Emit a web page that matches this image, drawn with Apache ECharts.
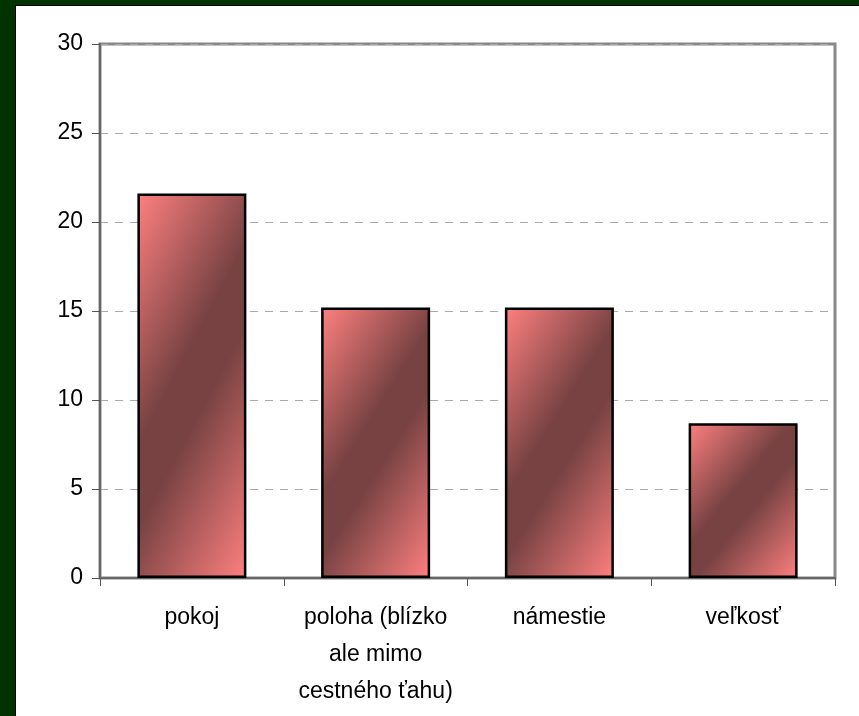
<!DOCTYPE html>
<html>
<head>
<meta charset="utf-8">
<script src="https://cdn.jsdelivr.net/npm/echarts@6/dist/echarts.min.js"></script>
<style>
html,body{margin:0;padding:0;background:#003300;width:859px;height:716px;overflow:hidden;}
#wrap{position:absolute;left:15px;top:5px;width:844px;height:711px;background:#000;}
#chart{position:absolute;left:1px;top:1px;width:843px;height:710px;background:#fff;}
</style>
</head>
<body>
<div id="wrap"><div id="chart"></div></div>
<script>
const categories = ['pokoj', 'poloha (blízko\nale mimo\ncestného ťahu)', 'námestie', 'veľkosť'];
const values = [21.6, 15.2, 15.2, 8.7];
const yTicks = { min: 0, max: 30, interval: 5 };

const chart = echarts.init(document.getElementById('chart'), null, { renderer: 'canvas' });
const font = 'Liberation Sans, Arial, sans-serif';
const BAR_W = 109;
const LIGHT = '#ff8080', DARK = '#784242';

function baseOption(data) {
  return {
    animation: false,
    backgroundColor: '#ffffff',
    grid: { left: 84, right: 24, top: 38, bottom: 138, show: true, borderColor: '#888888', borderWidth: 3, backgroundColor: 'transparent' },
    xAxis: {
      type: 'category',
      data: categories,
      axisLine: { show: true, lineStyle: { color: '#666666', width: 2 } },
      axisTick: { show: true, length: 8, lineStyle: { color: '#555555', width: 1 } },
      axisLabel: { color: '#000', fontFamily: font, fontSize: 23, lineHeight: 37, margin: 21, interval: 0 },
      splitLine: { show: false }
    },
    yAxis: {
      type: 'value',
      min: yTicks.min, max: yTicks.max, interval: yTicks.interval,
      axisLine: { show: true, lineStyle: { color: '#666666', width: 2 } },
      axisTick: { show: true, length: 8, lineStyle: { color: '#555555', width: 1 } },
      axisLabel: { color: '#000', fontFamily: font, fontSize: 23, margin: 17 },
      splitLine: { show: true, lineStyle: { color: '#aaaaaa', width: 1, type: [8, 7] } }
    },
    series: [{
      type: 'bar',
      data: data,
      barWidth: BAR_W,
      itemStyle: { color: LIGHT, borderColor: '#000000', borderWidth: 2.5 }
    }]
  };
}

chart.setOption(baseOption(values));

// per-bar diagonal gradient: light corners top-left & bottom-right, dark band across
const zeroY = chart.convertToPixel({ yAxisIndex: 0 }, 0);
const styled = values.map(function (v) {
  const h = Math.abs(zeroY - chart.convertToPixel({ yAxisIndex: 0 }, v));
  const w = BAR_W;
  const s = Math.sqrt(h / w);
  const eL = (s * w / 2 + h / 2) / (s * s + 1);
  const dx = eL * s / w, dy = eL / h;
  return {
    value: v,
    itemStyle: {
      color: new echarts.graphic.LinearGradient(0.5 - dx, 0.5 - dy, 0.5 + dx, 0.5 + dy, [
        { offset: 0, color: LIGHT },
        { offset: 0.43, color: DARK },
        { offset: 0.57, color: DARK },
        { offset: 1, color: LIGHT }
      ])
    }
  };
});
chart.setOption({ series: [{ data: styled }] });
</script>
</body>
</html>
